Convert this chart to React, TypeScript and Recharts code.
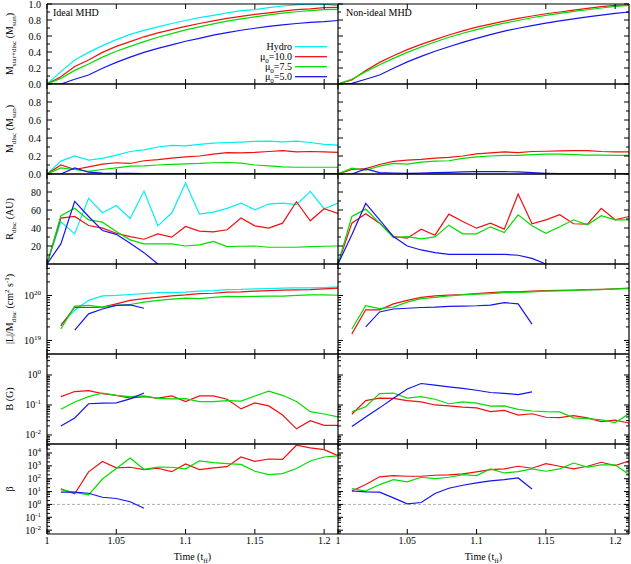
import React from 'react';
import { LineChart, Line, XAxis, YAxis, ReferenceLine, Legend } from 'recharts';

const FONT = '"Liberation Serif", "DejaVu Serif", serif';

const COLORS: Record<string, string> = {
  hydro: '#00eef0',
  mu10: '#f01010',
  mu75: '#00dd00',
  mu5: '#1414f0',
};
const KEY_ORDER = ['hydro', 'mu10', 'mu75', 'mu5'];

// time in free-fall units
const TIMES = [1.0, 1.01, 1.02, 1.03, 1.04, 1.05, 1.06, 1.07, 1.08, 1.09, 1.1, 1.11, 1.12, 1.13, 1.14, 1.15, 1.16, 1.17, 1.18, 1.19, 1.2, 1.21];
const X_TICKS = [1, 1.05, 1.1, 1.15, 1.2];

// M_star+disc
const MSD_I_HYDRO = [0, 0.155, 0.3, 0.395, 0.48, 0.555, 0.62, 0.67, 0.715, 0.756, 0.794, 0.83, 0.857, 0.89, 0.916, 0.93, 0.954, 0.975, 0.99, 1.0, 0.996, 0.98];
const MSD_I_MU10 = [0, 0.09, 0.22, 0.3, 0.395, 0.47, 0.53, 0.59, 0.64, 0.68, 0.72, 0.756, 0.79, 0.82, 0.845, 0.87, 0.89, 0.91, 0.93, 0.94, 0.954, 0.958];
const MSD_I_MU75 = [0, 0.07, 0.17, 0.25, 0.336, 0.41, 0.47, 0.53, 0.584, 0.63, 0.676, 0.714, 0.752, 0.786, 0.815, 0.84, 0.865, 0.886, 0.903, 0.916, 0.93, 0.933];
const MSD_I_MU5 = [0, 0, 0.06, 0.113, 0.197, 0.27, 0.336, 0.395, 0.445, 0.49, 0.534, 0.57, 0.61, 0.643, 0.672, 0.697, 0.72, 0.74, 0.756, 0.77, 0.78, 0.794];
const MSD_N_MU10 = [0, 0.05, 0.17, 0.27, 0.353, 0.43, 0.496, 0.555, 0.613, 0.664, 0.71, 0.748, 0.786, 0.82, 0.85, 0.878, 0.9, 0.924, 0.945, 0.966, 0.983, 0.987];
const MSD_N_MU75 = [0, 0.06, 0.155, 0.24, 0.32, 0.395, 0.462, 0.525, 0.584, 0.634, 0.68, 0.723, 0.76, 0.794, 0.828, 0.857, 0.882, 0.907, 0.928, 0.95, 0.97, 0.983];
const MSD_N_MU5 = [0, 0.008, 0.06, 0.113, 0.197, 0.277, 0.345, 0.41, 0.466, 0.52, 0.57, 0.618, 0.66, 0.697, 0.73, 0.76, 0.79, 0.815, 0.84, 0.86, 0.882, 0.9];

// M_disc
const MD_I_HYDRO = [0, 0.143, 0.2, 0.155, 0.174, 0.21, 0.25, 0.268, 0.3, 0.317, 0.313, 0.33, 0.343, 0.35, 0.355, 0.362, 0.366, 0.358, 0.366, 0.35, 0.33, 0.32];
const MD_I_MU10 = [0, 0.1, 0.05, 0.08, 0.11, 0.125, 0.117, 0.147, 0.16, 0.177, 0.19, 0.2, 0.22, 0.238, 0.234, 0.24, 0.25, 0.26, 0.245, 0.25, 0.245, 0.24];
const MD_I_MU75 = [0, 0.068, 0.05, 0.03, 0.05, 0.068, 0.087, 0.09, 0.1, 0.106, 0.113, 0.117, 0.125, 0.128, 0.12, 0.1, 0.09, 0.08, 0.075, 0.075, 0.075, 0.075];
const MD_I_MU5 = [0, 0, 0.068, 0.02, 0.01, 0.008, 0.006, 0.005, 0.005, 0.005, 0.005, 0.005, 0.005, 0.005, 0.005, 0.005, 0.005, 0.005, 0.005, 0.005, 0.005, 0.005];
const MD_N_MU10 = [0, 0.05, 0.06, 0.106, 0.14, 0.155, 0.162, 0.177, 0.185, 0.2, 0.223, 0.234, 0.245, 0.238, 0.25, 0.253, 0.257, 0.26, 0.26, 0.25, 0.245, 0.245];
const MD_N_MU75 = [0, 0.064, 0.042, 0.087, 0.117, 0.11, 0.132, 0.143, 0.147, 0.174, 0.19, 0.2, 0.207, 0.207, 0.215, 0.22, 0.22, 0.215, 0.21, 0.21, 0.207, 0.207];
const MD_N_MU5 = [0, 0, 0.056, 0.015, 0.011, 0.008, 0.011, 0.015, 0.019, 0.023, 0.026, 0.026, 0.026, 0.023, 0.015, 0.008, 0.004, 0.004, 0.004, 0.004, 0.004, 0.004];

// R_disc (AU)
const RD_I_HYDRO = [0, 47, 33.5, 73, 57, 65, 50.6, 81, 42.4, 56.6, 90, 55.4, 57.7, 61.8, 67.7, 60.3, 66.6, 67.7, 66, 80.7, 61.4, 67.7];
const RD_I_MU10 = [0, 51, 52.8, 42.8, 39.8, 34.2, 30.5, 27.5, 33.5, 29.8, 41.7, 36.5, 35.7, 38, 51, 42.4, 39.8, 45.4, 69.2, 48, 61.4, 56.2];
const RD_I_MU75 = [0, 53.6, 62, 49, 46.5, 36, 26.8, 22.3, 22.3, 22.3, 20, 21.2, 25, 19.3, 19.7, 20, 18.6, 18.6, 18.6, 19.3, 19.7, 20];
const RD_I_MU5 = [0, 22.3, 69.6, 52.8, 37.2, 33, 23, 12.6, 0];
const RD_N_MU10 = [0, 45.4, 55.8, 45.4, 30.5, 28.7, 38.7, 32, 55.4, 47.3, 39.8, 45.4, 38.7, 77.8, 44.7, 49.1, 54.7, 44.7, 44.3, 61.8, 49.1, 52.8];
const RD_N_MU75 = [0, 52.8, 61, 45.4, 29.4, 30.5, 27.9, 30.1, 43.2, 33.5, 33.5, 41.3, 35, 54.7, 42.4, 34.2, 41.3, 49.1, 43.5, 53.6, 49.1, 49.1];
const RD_N_MU5 = [0, 32.4, 67.3, 49.1, 30.5, 20, 15.6, 12.6, 10.8, 10.8, 10.8, 10.8, 10.8, 9.7, 6.3, 0];

// |L|/M_disc (cm^2 s^-1)
const L_I_HYDRO = [null, 2.3e19, 4.7e19, 7.8e19, 9.8e19, 1.0e20, 1.05e20, 1.1e20, 1.15e20, 1.15e20, 1.18e20, 1.25e20, 1.28e20, 1.35e20, 1.36e20, 1.4e20, 1.42e20, 1.45e20, 1.47e20, 1.47e20, 1.5e20, 1.55e20];
const L_I_MU10 = [null, 2.1e19, 5.5e19, 5.4e19, 5.5e19, 6.5e19, 7.8e19, 8.5e19, 9.1e19, 9.8e19, 1.03e20, 1.1e20, 1.12e20, 1.18e20, 1.2e20, 1.25e20, 1.28e20, 1.31e20, 1.33e20, 1.35e20, 1.4e20, 1.45e20];
const L_I_MU75 = [null, 1.8e19, 5.8e19, 6.0e19, 5.5e19, 6.0e19, 6.3e19, 7.1e19, 7.8e19, 8.3e19, 8.7e19, 8.5e19, 9.1e19, 9.5e19, 9.4e19, 9.5e19, 9.7e19, 9.7e19, 1.0e20, 1.03e20, 1.03e20, 1.01e20];
const L_I_MU5 = [null, null, 1.7e19, 3.9e19, 5.0e19, 6.0e19, 6.2e19, 5.2e19];
const L_N_MU10 = [null, 1.4e19, 4.8e19, 4.8e19, 6.5e19, 7.8e19, 9.1e19, 9.8e19, 1.02e20, 1.05e20, 1.1e20, 1.15e20, 1.2e20, 1.2e20, 1.25e20, 1.28e20, 1.3e20, 1.32e20, 1.35e20, 1.37e20, 1.4e20, 1.45e20];
const L_N_MU75 = [null, 1.8e19, 5.9e19, 5.1e19, 5.5e19, 7.1e19, 8.5e19, 9.1e19, 9.8e19, 1.03e20, 1.07e20, 1.1e20, 1.15e20, 1.17e20, 1.2e20, 1.25e20, 1.27e20, 1.29e20, 1.33e20, 1.35e20, 1.4e20, 1.42e20];
const L_N_MU5 = [null, null, 2.0e19, 4.3e19, 5.0e19, 5.2e19, 5.4e19, 5.5e19, 5.7e19, 5.8e19, 5.9e19, 6.1e19, 6.9e19, 6.5e19, 2.3e19];

// B (G)
const B_I_MU10 = [null, 0.19, 0.28, 0.3, 0.24, 0.21, 0.17, 0.19, 0.17, 0.2, 0.13, 0.2, 0.2, 0.155, 0.074, 0.117, 0.093, 0.046, 0.016, 0.03, 0.021, 0.021];
const B_I_MU75 = [null, 0.072, 0.126, 0.19, 0.25, 0.21, 0.19, 0.2, 0.166, 0.16, 0.162, 0.13, 0.13, 0.14, 0.135, 0.2, 0.29, 0.21, 0.13, 0.06, 0.05, 0.04];
const B_I_MU5 = [null, 0.02, 0.037, 0.11, 0.115, 0.117, 0.16, 0.25];
const B_N_MU10 = [null, 0.049, 0.14, 0.17, 0.166, 0.14, 0.126, 0.1, 0.093, 0.085, 0.08, 0.06, 0.066, 0.046, 0.051, 0.039, 0.038, 0.044, 0.037, 0.028, 0.031, 0.025];
const B_N_MU75 = [null, 0.059, 0.087, 0.24, 0.25, 0.17, 0.19, 0.155, 0.11, 0.126, 0.115, 0.091, 0.093, 0.071, 0.063, 0.06, 0.059, 0.037, 0.035, 0.032, 0.026, 0.051];
const B_N_MU5 = [null, 0.019, 0.04, 0.08, 0.166, 0.34, 0.52, 0.46, 0.4, 0.355, 0.31, 0.26, 0.245, 0.22, 0.275];

// plasma beta
const BETA_I_MU10 = [null, 16, 6.6, 340, 2200, 690, 780, 510, 650, 350, 1400, 510, 690, 870, 4900, 2200, 3400, 3200, 40000, 25000, 18000, 6200];
const BETA_I_MU75 = [null, 14, 8.5, 5.5, 95, 620, 4100, 540, 810, 780, 580, 2400, 1800, 1500, 1300, 380, 210, 250, 620, 2400, 4900, 5900];
const BETA_I_MU5 = [null, 8.9, 8.9, 7.4, 3.6, 2.9, 1.6, 0.51];
const BETA_N_MU10 = [null, 11, 35, 140, 175, 155, 155, 185, 200, 235, 340, 510, 580, 930, 650, 1500, 930, 580, 930, 1900, 1050, 2400];
const BETA_N_MU75 = [null, 17, 11, 35, 85, 56, 130, 100, 130, 210, 175, 580, 280, 350, 580, 380, 580, 1650, 810, 1200, 1200, 210];
const BETA_N_MU5 = [null, 11, 9.5, 8.9, 3.2, 1.1, 1.4, 7.1, 18, 31, 47, 68, 85, 115, 16];

// axis ticks
const LIN_MAJ = [0, 0.2, 0.4, 0.6, 0.8, 1.0];
const LIN_MAJ2 = [0, 0.2, 0.4, 0.6, 0.8];
const LIN_MIN = [0.1, 0.3, 0.5, 0.7, 0.9];
const R_MAJ = [20, 40, 60, 80];
const R_MIN = [10, 30, 50, 70, 90];
const L_MAJ = [1e19, 1e20];
const L_MIN = [6e18, 7e18, 8e18, 9e18, 2e19, 3e19, 4e19, 5e19, 6e19, 7e19, 8e19, 9e19, 2e20, 3e20, 4e20];
const B_MAJ = [0.01, 0.1, 1];
const B_MIN = [0.006, 0.007, 0.008, 0.009, 0.02, 0.03, 0.04, 0.05, 0.06, 0.07, 0.08, 0.09, 0.2, 0.3, 0.4, 0.5, 0.6, 0.7, 0.8, 0.9, 2, 3, 4];
const BETA_MAJ = [0.01, 0.1, 1, 10, 100, 1000, 10000];
const BETA_MIN = [0.006, 0.008, 0.02, 0.04, 0.06, 0.08, 0.2, 0.4, 0.6, 0.8, 2, 4, 6, 8, 20, 40, 60, 80, 200, 400, 600, 800, 2000, 4000, 6000, 8000, 20000, 40000];

type Series = (number | null)[] | undefined;

const buildRows = (s: Record<string, Series>) =>
  TIMES.map((t, i) => {
    const row: Record<string, number | null> = { t };
    Object.keys(s).forEach((k) => {
      const arr = s[k];
      row[k] = arr && arr[i] != null ? (arr[i] as number) : null;
    });
    return row;
  });

// rich text: [text, level] with level 1 = superscript, -1 = subscript
type Seg = [string, number];
const rich = (segs: Seg[], base = 10) => {
  let cur = 0;
  return segs.map(([s, k], i) => {
    const off = k === 1 ? -4 : k === -1 ? 3 : 0;
    const dy = off - cur;
    cur = off;
    return (
      <tspan key={i} dy={dy} fontSize={k === 0 ? base : 7}>
        {s}
      </tspan>
    );
  });
};

const fmtLin1 = (v: number) => v.toFixed(1);
const fmtInt = (v: number) => String(v);
const fmtPow = (v: number) => rich([['10', 0], [String(Math.round(Math.log10(v))), 1]]);

const isMajor = (majors: number[], v: number) =>
  majors.some((m) => Math.abs(m - v) <= Math.abs(m) * 1e-6 + 1e-12);

const XTick = (props: any) => {
  const { x, y, payload, edge, showLabel } = props;
  const dir = edge === 'top' ? 1 : -1;
  return (
    <g>
      <line x1={x} x2={x} y1={y} y2={y + dir * 5} stroke="#000" strokeWidth={1} />
      {showLabel && (
        <text x={x} y={y + 10} textAnchor="middle" fontSize={10} fontFamily={FONT} fill="#000">
          {String(payload.value)}
        </text>
      )}
    </g>
  );
};

const YTick = (props: any) => {
  const { x, y, payload, edge, majors, fmt, showLabel } = props;
  const major = isMajor(majors, payload.value);
  const dir = edge === 'left' ? 1 : -1;
  const len = major ? 5 : 3;
  return (
    <g>
      <line x1={x} x2={x + dir * len} y1={y} y2={y} stroke="#000" strokeWidth={1} />
      {showLabel && major && (
        <text x={x - 6} y={y + 3.5} textAnchor="end" fontSize={10} fontFamily={FONT} fill="#000">
          {fmt(payload.value)}
        </text>
      )}
    </g>
  );
};

const LEGEND_LABELS: Record<string, Seg[]> = {
  hydro: [['Hydro', 0]],
  mu10: [['μ', 0], ['0', -1], ['=10.0', 0]],
  mu75: [['μ', 0], ['0', -1], ['=7.5', 0]],
  mu5: [['μ', 0], ['0', -1], ['=5.0', 0]],
};

const LegendBox = (props: any) => {
  const items = [...(props.payload || [])].sort(
    (a: any, b: any) => KEY_ORDER.indexOf(a.dataKey) - KEY_ORDER.indexOf(b.dataKey)
  );
  return (
    <svg width={95} height={42} style={{ overflow: 'visible', display: 'block' }}>
      {items.map((it: any, i: number) => {
        const y = 6.7 + 10 * i;
        return (
          <g key={it.dataKey}>
            <text x={52} y={y + 3.5} textAnchor="end" fontSize={10} fontFamily={FONT} fill="#000">
              {rich(LEGEND_LABELS[it.dataKey])}
            </text>
            <line x1={55} x2={87} y1={y} y2={y} stroke={it.color} strokeWidth={1.3} />
          </g>
        );
      })}
    </svg>
  );
};

const AXIS = { stroke: '#000', strokeWidth: 1.2 };
const PLOT_W = 291;

type PanelProps = {
  col: 0 | 1;
  row: number;
  data: Record<string, number | null>[];
  keys: string[];
  domain: [number, number];
  log?: boolean;
  majors: number[];
  minors: number[];
  fmt: (v: number) => React.ReactNode;
  betaRef?: boolean;
  legend?: boolean;
};

const Panel = ({ col, row, data, keys, domain, log, majors, minors, fmt, betaRef, legend }: PanelProps) => {
  const plotTop = row === 0 ? 4 : 84 + 90 * (row - 1);
  const plotH = row === 0 ? 80 : 90;
  const last = row === 5;
  const bottomH = last ? 30 : 1;
  const leftW = col === 0 ? 47 : 1;
  const rightW = col === 0 ? 0 : 1;
  const width = leftW + PLOT_W + rightW;
  const height = 1 + plotH + bottomH;
  const ticks = [...majors, ...minors];
  const yCommon = {
    type: 'number' as const,
    domain,
    scale: (log ? 'log' : 'linear') as any,
    ticks,
    allowDataOverflow: true,
    interval: 0 as const,
    tickLine: false,
    tickSize: 0,
    tickMargin: 0,
    axisLine: AXIS,
  };
  const xCommon = {
    dataKey: 't',
    type: 'number' as const,
    domain: [1, 1.21] as [number, number],
    ticks: X_TICKS,
    allowDataOverflow: true,
    interval: 0 as const,
    tickLine: false,
    tickSize: 0,
    tickMargin: 0,
    axisLine: AXIS,
  };
  return (
    <div style={{ position: 'absolute', left: col === 0 ? 0 : 337, top: plotTop - 1 }}>
      <LineChart width={width} height={height} data={data} margin={{ top: 0, right: 0, bottom: 0, left: 0 }}>
        <XAxis {...xCommon} height={bottomH} tick={<XTick edge="bottom" showLabel={last} />} />
        <XAxis {...xCommon} xAxisId="top" orientation="top" height={1} tick={<XTick edge="top" showLabel={false} />} />
        <YAxis {...yCommon} width={leftW} tick={<YTick edge="left" majors={majors} fmt={fmt} showLabel={col === 0} />} />
        {col === 1 && (
          <YAxis {...yCommon} yAxisId="r" orientation="right" width={1} tick={<YTick edge="right" majors={majors} fmt={fmt} showLabel={false} />} />
        )}
        {betaRef && <ReferenceLine y={1} stroke="#999" strokeWidth={0.8} strokeDasharray="3 2" />}
        {keys.map((k) => (
          <Line
            key={k}
            type="linear"
            dataKey={k}
            name={k}
            stroke={COLORS[k]}
            strokeWidth={1.2}
            dot={false}
            activeDot={false}
            isAnimationActive={false}
          />
        ))}
        {legend && (
          <Legend
            content={<LegendBox />}
            layout="horizontal"
            verticalAlign="middle"
            align="center"
            wrapperStyle={{ left: 240, top: 37, width: 95, height: 42 }}
          />
        )}
      </LineChart>
    </div>
  );
};

const T = (props: any) => <text fontFamily={FONT} fontSize={10} fill="#000" {...props} />;

const yLabel = (yc: number, segs: Seg[]) => (
  <T x={13} y={yc} textAnchor="middle" transform={`rotate(-90 13 ${yc})`}>{rich(segs)}</T>
);

export default function App() {
  const msdI = buildRows({ hydro: MSD_I_HYDRO, mu10: MSD_I_MU10, mu75: MSD_I_MU75, mu5: MSD_I_MU5 });
  const msdN = buildRows({ mu10: MSD_N_MU10, mu75: MSD_N_MU75, mu5: MSD_N_MU5 });
  const mdI = buildRows({ hydro: MD_I_HYDRO, mu10: MD_I_MU10, mu75: MD_I_MU75, mu5: MD_I_MU5 });
  const mdN = buildRows({ mu10: MD_N_MU10, mu75: MD_N_MU75, mu5: MD_N_MU5 });
  const rdI = buildRows({ hydro: RD_I_HYDRO, mu10: RD_I_MU10, mu75: RD_I_MU75, mu5: RD_I_MU5 });
  const rdN = buildRows({ mu10: RD_N_MU10, mu75: RD_N_MU75, mu5: RD_N_MU5 });
  const lI = buildRows({ hydro: L_I_HYDRO, mu10: L_I_MU10, mu75: L_I_MU75, mu5: L_I_MU5 });
  const lN = buildRows({ mu10: L_N_MU10, mu75: L_N_MU75, mu5: L_N_MU5 });
  const bI = buildRows({ mu10: B_I_MU10, mu75: B_I_MU75, mu5: B_I_MU5 });
  const bN = buildRows({ mu10: B_N_MU10, mu75: B_N_MU75, mu5: B_N_MU5 });
  const betaI = buildRows({ mu10: BETA_I_MU10, mu75: BETA_I_MU75, mu5: BETA_I_MU5 });
  const betaN = buildRows({ mu10: BETA_N_MU10, mu75: BETA_N_MU75, mu5: BETA_N_MU5 });

  const all = ['hydro', 'mu10', 'mu75', 'mu5'];
  const mhd = ['mu10', 'mu75', 'mu5'];

  return (
    <div style={{ position: 'absolute', left: 0, top: 0, width: 631, height: 564, background: '#fff' }}>
      <style>{'.recharts-surface{overflow:visible}'}</style>
      <svg width={631} height={564} style={{ position: 'absolute', left: 0, top: 0 }}>
        {yLabel(44, [['M', 0], ['star+disc', -1], [' (M', 0], ['sun', -1], [')', 0]])}
        {yLabel(129, [['M', 0], ['disc', -1], [' (M', 0], ['sun', -1], [')', 0]])}
        {yLabel(219, [['R', 0], ['disc', -1], [' (AU)', 0]])}
        {yLabel(309, [['|L|/M', 0], ['disc', -1], [' (cm', 0], ['2', 1], [' s', 0], ['-1', 1], [')', 0]])}
        {yLabel(399, [['B (G)', 0]])}
        {yLabel(489, [['β', 0]])}
        <T x={53} y={16}>Ideal MHD</T>
        <T x={346} y={16}>Non-ideal MHD</T>
        <T x={192.5} y={560} textAnchor="middle">{rich([['Time (t', 0], ['ff', -1], [')', 0]])}</T>
        <T x={483.5} y={560} textAnchor="middle">{rich([['Time (t', 0], ['ff', -1], [')', 0]])}</T>
      </svg>

      <Panel col={0} row={0} data={msdI} keys={all} domain={[0, 1]} majors={LIN_MAJ} minors={LIN_MIN} fmt={fmtLin1} legend />
      <Panel col={1} row={0} data={msdN} keys={mhd} domain={[0, 1]} majors={LIN_MAJ} minors={LIN_MIN} fmt={fmtLin1} />
      <Panel col={0} row={1} data={mdI} keys={all} domain={[0, 1]} majors={LIN_MAJ2} minors={LIN_MIN} fmt={fmtLin1} />
      <Panel col={1} row={1} data={mdN} keys={mhd} domain={[0, 1]} majors={LIN_MAJ2} minors={LIN_MIN} fmt={fmtLin1} />
      <Panel col={0} row={2} data={rdI} keys={all} domain={[0, 100]} majors={R_MAJ} minors={R_MIN} fmt={fmtInt} />
      <Panel col={1} row={2} data={rdN} keys={mhd} domain={[0, 100]} majors={R_MAJ} minors={R_MIN} fmt={fmtInt} />
      <Panel col={0} row={3} data={lI} keys={all} domain={[5e18, 5e20]} log majors={L_MAJ} minors={L_MIN} fmt={fmtPow} />
      <Panel col={1} row={3} data={lN} keys={mhd} domain={[5e18, 5e20]} log majors={L_MAJ} minors={L_MIN} fmt={fmtPow} />
      <Panel col={0} row={4} data={bI} keys={mhd} domain={[0.005, 5]} log majors={B_MAJ} minors={B_MIN} fmt={fmtPow} />
      <Panel col={1} row={4} data={bN} keys={mhd} domain={[0.005, 5]} log majors={B_MAJ} minors={B_MIN} fmt={fmtPow} />
      <Panel col={0} row={5} data={betaI} keys={mhd} domain={[0.005, 50000]} log majors={BETA_MAJ} minors={BETA_MIN} fmt={fmtPow} betaRef />
      <Panel col={1} row={5} data={betaN} keys={mhd} domain={[0.005, 50000]} log majors={BETA_MAJ} minors={BETA_MIN} fmt={fmtPow} betaRef />
    </div>
  );
}
